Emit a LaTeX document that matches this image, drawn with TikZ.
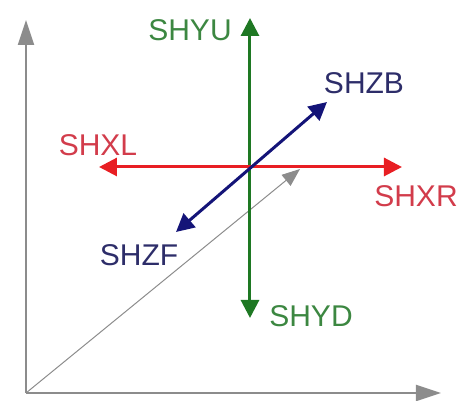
\documentclass[tikz,border=0pt]{standalone}
\usepackage{fontspec}
\setmainfont{Liberation Sans}
\usetikzlibrary{arrows.meta}
\definecolor{axgray}{RGB}{140,140,140}
\definecolor{ygreen}{RGB}{30,120,35}
\definecolor{ylab}{RGB}{60,135,65}
\definecolor{xred}{RGB}{232,30,35}
\definecolor{xlab}{RGB}{210,60,75}
\definecolor{zblue}{RGB}{20,20,120}
\definecolor{zlab}{RGB}{45,45,105}
\tikzset{
  axis/.style={draw=axgray,line width=1.1pt,-{Triangle[length=12.5pt,width=8pt]}},
  diag/.style={draw=axgray,line width=0.5pt,-{Triangle[length=9pt,width=7pt]}},
  dir/.style={line width=1.5pt,{Triangle[length=9pt,width=9pt]}-{Triangle[length=9pt,width=9pt]}},
  lab/.style={font=\fontsize{15pt}{17pt}\selectfont,inner sep=0pt}
}
\begin{document}
\begin{tikzpicture}[x=0.5pt,y=-0.5pt]
\useasboundingbox (0,0) rectangle (463,401);
\coordinate (o) at (26,393);
\coordinate (yt) at (26,20);
\coordinate (xt) at (441,393);
\coordinate (dt) at (300,169);
\coordinate (c) at (250,167);
\coordinate (yu) at (250,18);
\coordinate (yd) at (250,318);
\coordinate (xl) at (99,167);
\coordinate (xr) at (402,167);
\coordinate (zb) at (327,102);
\coordinate (zf) at (176,232);
\draw[axis] (o) -- (yt);
\draw[axis] (o) -- (xt);
\draw[diag] (o) -- (dt);
\draw[dir,draw=ygreen,fill=ygreen] (yd) -- (yu);
\draw[dir,draw=xred,fill=xred] (xl) -- (xr);
\draw[dir,draw=zblue,fill=zblue] (zf) -- (zb);
\node[lab,text=ylab] (lyu) at (190,30) {SHYU};
\node[lab,text=ylab] (lyd) at (311,316) {SHYD};
\node[lab,text=zlab] (lzb) at (364,83) {SHZB};
\node[lab,text=zlab] (lzf) at (139,255) {SHZF};
\node[lab,text=xlab] (lxl) at (98,145) {SHXL};
\node[lab,text=xlab] (lxr) at (416,196) {SHXR};
\end{tikzpicture}
\end{document}
